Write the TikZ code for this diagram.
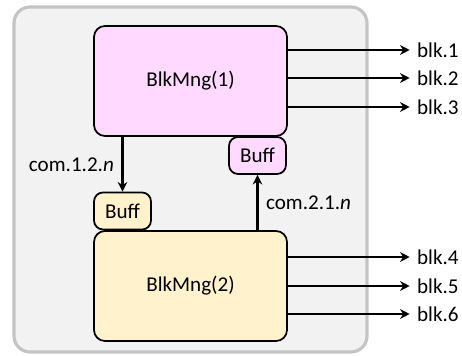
\documentclass[tikz,border=0pt]{standalone}
\usepackage{fontspec}
\setmainfont{Carlito}
\usetikzlibrary{arrows.meta,positioning,calc}

\definecolor{mngpink}{RGB}{255,217,255}
\definecolor{mngyellow}{RGB}{255,242,204}
\definecolor{framefill}{RGB}{242,242,242}
\definecolor{frameline}{RGB}{196,196,196}

\tikzset{
  mng/.style={draw, line width=1pt, rounded corners=0.22cm, minimum width=3.86cm, minimum height=2.2cm, font=\fontsize{12}{14}\selectfont},
  buff/.style={draw, line width=1pt, rounded corners=0.18cm, minimum width=1.14cm, minimum height=0.74cm, inner sep=0pt, font=\fontsize{12}{14}\selectfont},
  link/.style={-{Stealth[length=5.5pt,width=5.5pt]}, line width=1.4pt},
  lbl/.style={font=\fontsize{12}{14}\selectfont, inner sep=1pt}
}

\begin{document}
\begin{tikzpicture}[>=Stealth, line cap=round, line join=round]
\useasboundingbox (0,0) rectangle (9.24,7.1);

% background frame
\draw[frameline, fill=framefill, line width=1.8pt, rounded corners=0.32cm] (0.28,0.06) rectangle (7.34,6.96);

\node[mng, fill=mngpink] (m1) at (3.81,5.48) {BlkMng(1)};
\node[mng, fill=mngyellow] (m2) at (3.81,1.38) {BlkMng(2)};
\node[buff, fill=mngpink] (b1) at (5.15,3.99) {Buff};
\node[buff, fill=mngyellow] (b2) at (2.45,2.88) {Buff};

% exchange between the managers
\draw[link] (m1.south -| b2) -- (b2.north);
\draw[link] (m2.north -| b1) -- (b1.south);
\node[lbl, anchor=east] (c12) at (2.32,3.8) {com.1.2.\textit{n}};
\node[lbl, anchor=west] (c21) at (5.28,3.04) {com.2.1.\textit{n}};

% outputs
\foreach \i/\y in {1/6.1, 2/5.54, 3/4.96, 4/1.96, 5/1.38, 6/0.82} {
  \node[lbl, anchor=west] (o\i) at (8.3,\y) {blk.\i};
}
\foreach \i in {1,2,3} \draw[link, shorten >=3pt] (m1.east |- o\i) -- (o\i.west);
\foreach \i in {4,5,6} \draw[link, shorten >=3pt] (m2.east |- o\i) -- (o\i.west);

\end{tikzpicture}
\end{document}
